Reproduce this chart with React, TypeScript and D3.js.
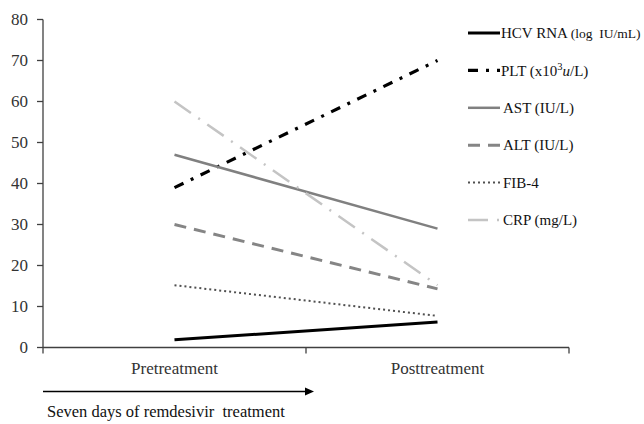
import React from "react";
import * as d3 from "d3";

const categories = ["Pretreatment", "Posttreatment"];
const yTicks = [0, 10, 20, 30, 40, 50, 60, 70, 80];
const hcvRna = [1.9, 6.2];
const plt = [39, 70];
const ast = [47, 29];
const alt = [30, 14.3];
const fib4 = [15.2, 7.7];
const crp = [60, 15.2];
const seriesNames = ["HCV RNA", "PLT", "AST (IU/L)", "ALT (IU/L)", "FIB-4", "CRP (mg/L)"];

const W = 644, H = 424;
const left = 43, right = 569, top = 19.5, bottom = 347.5;
const font = "Liberation Serif";

const styles = [
  { color: "#000000", width: 3, dash: "" },
  { color: "#000000", width: 3.2, dash: "10 8 3 8" },
  { color: "#808080", width: 2.5, dash: "" },
  { color: "#858585", width: 3, dash: "12 8" },
  { color: "#505050", width: 2, dash: "2 3" },
  { color: "#c4c4c4", width: 2.5, dash: "20 9 2 9" },
];

export default function App() {
  const x = d3.scaleBand<string>().domain(categories).range([left, right]);
  const y = d3.scaleLinear().domain([0, 80]).range([bottom, top]);
  const data = [hcvRna, plt, ast, alt, fib4, crp];
  const line = d3
    .line<number>()
    .x((_, i) => (x(categories[i]) as number) + x.bandwidth() / 2)
    .y((d) => y(d));
  const legendX1 = 468, legendX2 = 500;
  const legendY0 = 33, legendStep = 37.4;
  const tf = { fontFamily: font };

  return (
    <svg width={W} height={H} style={{ position: "absolute", left: 0, top: 0, background: "#fff", fontFamily: font }}>
      <rect width={W} height={H} fill="#fff" />
      {/* y axis */}
      <line x1={left} x2={left} y1={top} y2={bottom} stroke="#404040" strokeWidth={1.3} />
      {yTicks.map((t) => (
        <g key={t}>
          <line x1={left - 6} x2={left} y1={y(t)} y2={y(t)} stroke="#404040" strokeWidth={1.3} />
          <text x={left - 15} y={y(t)} dy="0.35em" textAnchor="end" style={tf} fontSize={17} fill="#333">
            {t}
          </text>
        </g>
      ))}
      {/* x axis */}
      <line x1={left} x2={right} y1={bottom} y2={bottom} stroke="#404040" strokeWidth={1.3} />
      {[left, left + x.bandwidth(), right].map((v, i) => (
        <line key={i} x1={v} x2={v} y1={bottom} y2={bottom + 6} stroke="#404040" strokeWidth={1.3} />
      ))}
      {categories.map((c) => (
        <text key={c} x={(x(c) as number) + x.bandwidth() / 2} y={374} textAnchor="middle" style={tf} fontSize={17} fill="#333">
          {c}
        </text>
      ))}
      {/* series */}
      {data.map((d, i) => (
        <path
          key={seriesNames[i]}
          d={line(d) || ""}
          fill="none"
          stroke={styles[i].color}
          strokeWidth={styles[i].width}
          strokeDasharray={styles[i].dash || undefined}
        />
      ))}
      {/* legend */}
      {styles.map((s, i) => (
        <line
          key={i}
          x1={legendX1}
          x2={legendX2}
          y1={legendY0 + i * legendStep}
          y2={legendY0 + i * legendStep}
          stroke={s.color}
          strokeWidth={s.width}
          strokeDasharray={s.dash || undefined}
        />
      ))}
      <g style={tf} fill="#111" fontSize={15}>
        <text x={501} y={legendY0} dy="0.35em">
          HCV RNA <tspan fontSize={13.5}>(log{"\u00a0"} IU/mL)</tspan>
        </text>
        <text x={501} y={legendY0 + legendStep} dy="0.35em">
          PLT (x10<tspan fontSize={10.5} dy="-6">3</tspan>
          <tspan dy="6" style={{ fontStyle: "italic" }}>u</tspan>/L)
        </text>
        <text x={503} y={legendY0 + 2 * legendStep} dy="0.35em">{seriesNames[2]}</text>
        <text x={503} y={legendY0 + 3 * legendStep} dy="0.35em">{seriesNames[3]}</text>
        <text x={503} y={legendY0 + 4 * legendStep} dy="0.35em">{seriesNames[4]}</text>
        <text x={503} y={legendY0 + 5 * legendStep} dy="0.35em">{seriesNames[5]}</text>
      </g>
      {/* arrow */}
      <line x1={43} x2={306} y1={391.5} y2={391.5} stroke="#000" strokeWidth={1.5} />
      <path d="M305,387.5 L314,391.5 L305,395.5 Z" fill="#000" />
      <text x={47} y={417} style={tf} fontSize={16.5} fill="#111">
        Seven days of remdesivir{"\u00a0"} treatment
      </text>
    </svg>
  );
}
